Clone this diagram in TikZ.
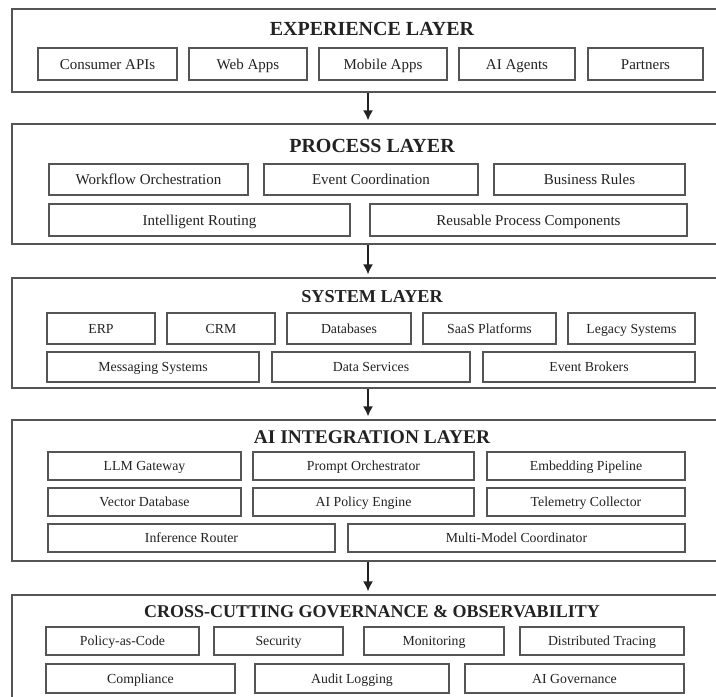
\documentclass[tikz,border=0pt]{standalone}
\usepackage{fontspec}
\setmainfont{Liberation Serif}
\usetikzlibrary{arrows.meta}
\definecolor{linegray}{HTML}{555555}
\definecolor{inkgray}{HTML}{222222}

\begin{document}
\begin{tikzpicture}[
    x=1pt, y=-1pt,
    layer/.style={rectangle, draw=linegray, line width=1.4pt, minimum width=720pt, inner sep=0pt},
    title/.style={font=\bfseries\fontsize{20}{24}\selectfont, text=inkgray, text height=13pt, text depth=0pt, inner sep=0pt},
    item/.style={rectangle, draw=linegray, line width=1.1pt, inner sep=0pt, font=\fontsize{15}{18}\selectfont, text=inkgray, text height=10pt, text depth=0pt},
    smallitem/.style={item, font=\fontsize{13.8}{16}\selectfont, text height=9.2pt},
    arrow/.style={-{Latex[length=10pt,width=10pt]}, line width=1.4pt, draw=inkgray, shorten >=3pt}
]
    \clip (0,0) rectangle (716,697);
    \fill[white] (0,0) rectangle (716,697);

    % experience layer
    \node[layer, minimum height=83pt] (exp) at (372,50.5) {};
    \node[title] (exptitle) at (372,28.5) {EXPERIENCE LAYER};
    \node[item, minimum width=139pt, minimum height=32pt] (capi) at (107.5,64) {Consumer APIs};
    \node[item, minimum width=118pt, minimum height=32pt] (web) at (248,64) {Web Apps};
    \node[item, minimum width=128pt, minimum height=32pt] (mobile) at (383,64) {Mobile Apps};
    \node[item, minimum width=116pt, minimum height=32pt] (agents) at (517,64) {AI Agents};
    \node[item, minimum width=115pt, minimum height=32pt] (partners) at (645.5,64) {Partners};

    % process layer
    \node[layer, minimum height=120pt] (proc) at (372,184) {};
    \node[title] (proctitle) at (372,146) {PROCESS LAYER};
    \node[item, minimum width=199pt, minimum height=31pt] (workflow) at (148.5,179.5) {Workflow Orchestration};
    \node[item, minimum width=214pt, minimum height=31pt] (eventco) at (371,179.5) {Event Coordination};
    \node[item, minimum width=191pt, minimum height=31pt] (rules) at (589.5,179.5) {Business Rules};
    \node[item, minimum width=301pt, minimum height=32pt] (routing) at (199.5,220) {Intelligent Routing};
    \node[item, minimum width=317pt, minimum height=32pt] (reusable) at (528.5,220) {Reusable Process Components};

    % system layer
    \node[layer, minimum height=110pt] (sys) at (372,333) {};
    \node[title, font=\bfseries\fontsize{18.2}{22}\selectfont, text height=12pt] (systitle) at (372,296) {SYSTEM LAYER};
    \node[smallitem, minimum width=108pt, minimum height=31pt] (erp) at (101,328.5) {ERP};
    \node[smallitem, minimum width=108pt, minimum height=31pt] (crm) at (221,328.5) {CRM};
    \node[smallitem, minimum width=124pt, minimum height=31pt] (dbs) at (349,328.5) {Databases};
    \node[smallitem, minimum width=133pt, minimum height=31pt] (saas) at (489.5,328.5) {SaaS Platforms};
    \node[smallitem, minimum width=127pt, minimum height=31pt] (legacy) at (631.5,328.5) {Legacy Systems};
    \node[smallitem, minimum width=212pt, minimum height=30pt] (messaging) at (153,367) {Messaging Systems};
    \node[smallitem, minimum width=198pt, minimum height=30pt] (dataserv) at (371,367) {Data Services};
    \node[smallitem, minimum width=212pt, minimum height=30pt] (brokers) at (589,367) {Event Brokers};

    % ai integration layer
    \node[layer, minimum height=141pt] (ai) at (372,490.5) {};
    \node[title, font=\bfseries\fontsize{19.4}{23}\selectfont, text height=12.8pt] (aititle) at (372,437) {AI INTEGRATION LAYER};
    \node[smallitem, minimum width=193pt, minimum height=28pt] (llm) at (144.5,466) {LLM Gateway};
    \node[smallitem, minimum width=221pt, minimum height=28pt] (prompt) at (363.5,466) {Prompt Orchestrator};
    \node[smallitem, minimum width=198pt, minimum height=28pt] (embed) at (586,466) {Embedding Pipeline};
    \node[smallitem, minimum width=193pt, minimum height=28pt] (vector) at (144.5,502) {Vector Database};
    \node[smallitem, minimum width=221pt, minimum height=28pt] (policy) at (363.5,502) {AI Policy Engine};
    \node[smallitem, minimum width=198pt, minimum height=28pt] (telemetry) at (586,502) {Telemetry Collector};
    \node[smallitem, minimum width=287pt, minimum height=28pt] (inference) at (191.5,538) {Inference Router};
    \node[smallitem, minimum width=337pt, minimum height=28pt] (multimodel) at (516.5,538) {Multi-Model Coordinator};

    % governance layer
    \node[layer, minimum height=125pt] (gov) at (372,657.5) {};
    \node[title, font=\bfseries\fontsize{18}{22}\selectfont, text height=12pt] (govtitle) at (372,611) {CROSS-CUTTING GOVERNANCE \& OBSERVABILITY};
    \node[smallitem, minimum width=153pt, minimum height=28pt] (pac) at (122.5,641) {Policy-as-Code};
    \node[smallitem, minimum width=129pt, minimum height=28pt] (security) at (278.5,641) {Security};
    \node[smallitem, minimum width=140pt, minimum height=28pt] (monitoring) at (434,641) {Monitoring};
    \node[smallitem, minimum width=164pt, minimum height=28pt] (tracing) at (602,641) {Distributed Tracing};
    \node[smallitem, minimum width=189pt, minimum height=29pt] (compliance) at (140.5,678.5) {Compliance};
    \node[smallitem, minimum width=194pt, minimum height=29pt] (audit) at (352,678.5) {Audit Logging};
    \node[smallitem, minimum width=219pt, minimum height=29pt] (aigov) at (574.5,678.5) {AI Governance};

    \draw[arrow] ([xshift=-4pt]exp.south) -- ([xshift=-4pt]proc.north);
    \draw[arrow] ([xshift=-4pt]proc.south) -- ([xshift=-4pt]sys.north);
    \draw[arrow] ([xshift=-4pt]sys.south) -- ([xshift=-4pt]ai.north);
    \draw[arrow] ([xshift=-4pt]ai.south) -- ([xshift=-4pt]gov.north);
\end{tikzpicture}
\end{document}
